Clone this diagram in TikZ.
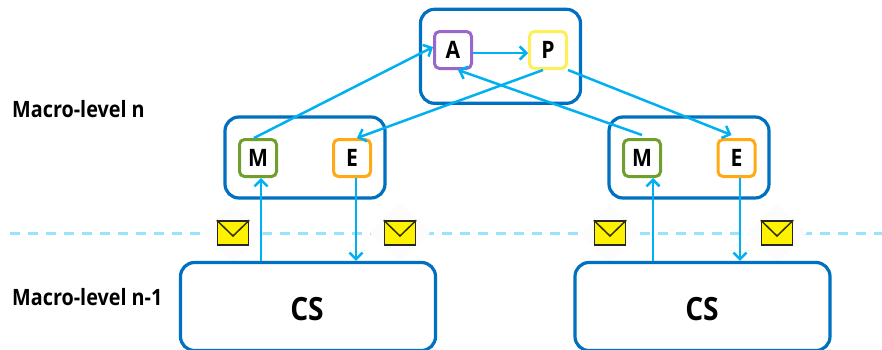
\documentclass[tikz,border=0pt]{standalone}
\usepackage{fontspec}
\setmainfont{Open Sans}[BoldFont={Open Sans Bold}]
\newfontfamily\narrowbold{Open Sans Bold}[FakeStretch=0.88]
\usetikzlibrary{arrows.meta,shapes.geometric}
\definecolor{boxblue}{HTML}{0070C0}
\definecolor{flowblue}{HTML}{00B0F0}
\definecolor{dashblue}{HTML}{99E3FF}
\definecolor{envyellow}{HTML}{FFF200}
\definecolor{apurple}{HTML}{9966CC}
\definecolor{pyellow}{HTML}{FFEE55}
\definecolor{mgreen}{HTML}{70A02C}
\definecolor{eorange}{HTML}{FFA914}
\tikzset{
  group/.style={draw=boxblue,line width=3.2pt,rounded corners=14pt,fill=white,inner sep=0pt},
  upperbox/.style={group,minimum width=160pt,minimum height=94pt},
  midbox/.style={group,minimum width=160pt,minimum height=81pt},
  csbox/.style={group,minimum width=255pt,minimum height=88pt},
  cstext/.style={inner sep=0pt,font=\narrowbold\fontsize{32}{32}\selectfont},
  stage/.style={line width=3pt,rounded corners=5pt,fill=white,inner sep=0pt,minimum size=37pt,font=\narrowbold\fontsize{24}{24}\selectfont},
  flow/.style={draw=flowblue,line width=2.5pt,-{Straight Barb[length=6.5pt,width=13pt]}},
  flowline/.style={draw=dashblue,line width=2.4pt,dash pattern=on 10pt off 8pt},
  halo/.style={diamond,fill=black!1,inner sep=0pt,minimum width=60pt,minimum height=60pt},
  envelope/.style={draw=black!85,line width=1.5pt,fill=envyellow,inner sep=0pt,minimum width=31pt,minimum height=24pt},
  flap/.style={draw=black!80!envyellow,line width=1.5pt},
  level/.style={inner sep=0pt,anchor=west,font=\narrowbold\fontsize{22.5}{22.5}\selectfont}
}
\begin{document}
\begin{tikzpicture}[x=1pt,y=-1pt]
\path[use as bounding box,fill=white] (0,0) rectangle (882,349);
\coordinate (dashL) at (10,233.3);
\coordinate (dashR) at (882,233.3);
\draw[flowline] (dashL) -- (dashR);
\foreach \n/\x in {1/233,2/400,3/610,4/777}{
  \node[halo] (halo\n) at (\x,233) {};
  \node[envelope] (env\n) at (\x,233) {};
  \coordinate (apex\n) at ([yshift=-3pt]env\n.center);
  \draw[flap] (env\n.north west) -- (apex\n) -- (env\n.north east);
}
\node[upperbox] (top) at (500.5,56.3) {};
\node[midbox] (left) at (305,157.5) {};
\node[midbox] (right) at (689,157.5) {};
\node[csbox] (CS1) at (308,306.5) {};
\node[csbox] (CS2) at (702.5,306.5) {};
\node[cstext] (cslabel1) at (307,309) {CS};
\node[cstext] (cslabel2) at (702,309) {CS};
\node[stage,draw=apurple] (A) at (453,50) {A};
\node[stage,draw=pyellow] (P) at (548,50) {P};
\node[stage,draw=mgreen] (M1) at (258,158) {M};
\node[stage,draw=eorange] (E1) at (352,158) {E};
\node[stage,draw=mgreen] (M2) at (642,158) {M};
\node[stage,draw=eorange] (E2) at (736.5,158) {E};
\node[level] (lvl1) at (12,109) {Macro-level n};
\node[level] (lvl2) at (12,297) {Macro-level n-1};
\draw[flow] ([xshift=-4pt]M1.north) -- ([yshift=3pt]A.west);
\draw[flow] ([yshift=-3pt]A.east) -- ([yshift=-3pt]P.west);
\draw[flow] ([xshift=-5pt]P.south) -- ([xshift=5pt]E1.north);
\draw[flow] (P.south east) -- ([xshift=-5pt,yshift=3pt]E2.north);
\draw[flow] ([yshift=3pt]M2.north) -- ([xshift=5pt]A.south);
\draw[flow] ([xshift=-47pt]CS1.north) -- ([xshift=3pt]M1.south);
\draw[flow] ([xshift=4pt]E1.south) -- ([xshift=48pt]CS1.north);
\draw[flow] ([xshift=-49.5pt]CS2.north) -- ([xshift=11pt]M2.south);
\draw[flow] ([xshift=3.5pt]E2.south) -- ([xshift=37.5pt]CS2.north);
\end{tikzpicture}
\end{document}
